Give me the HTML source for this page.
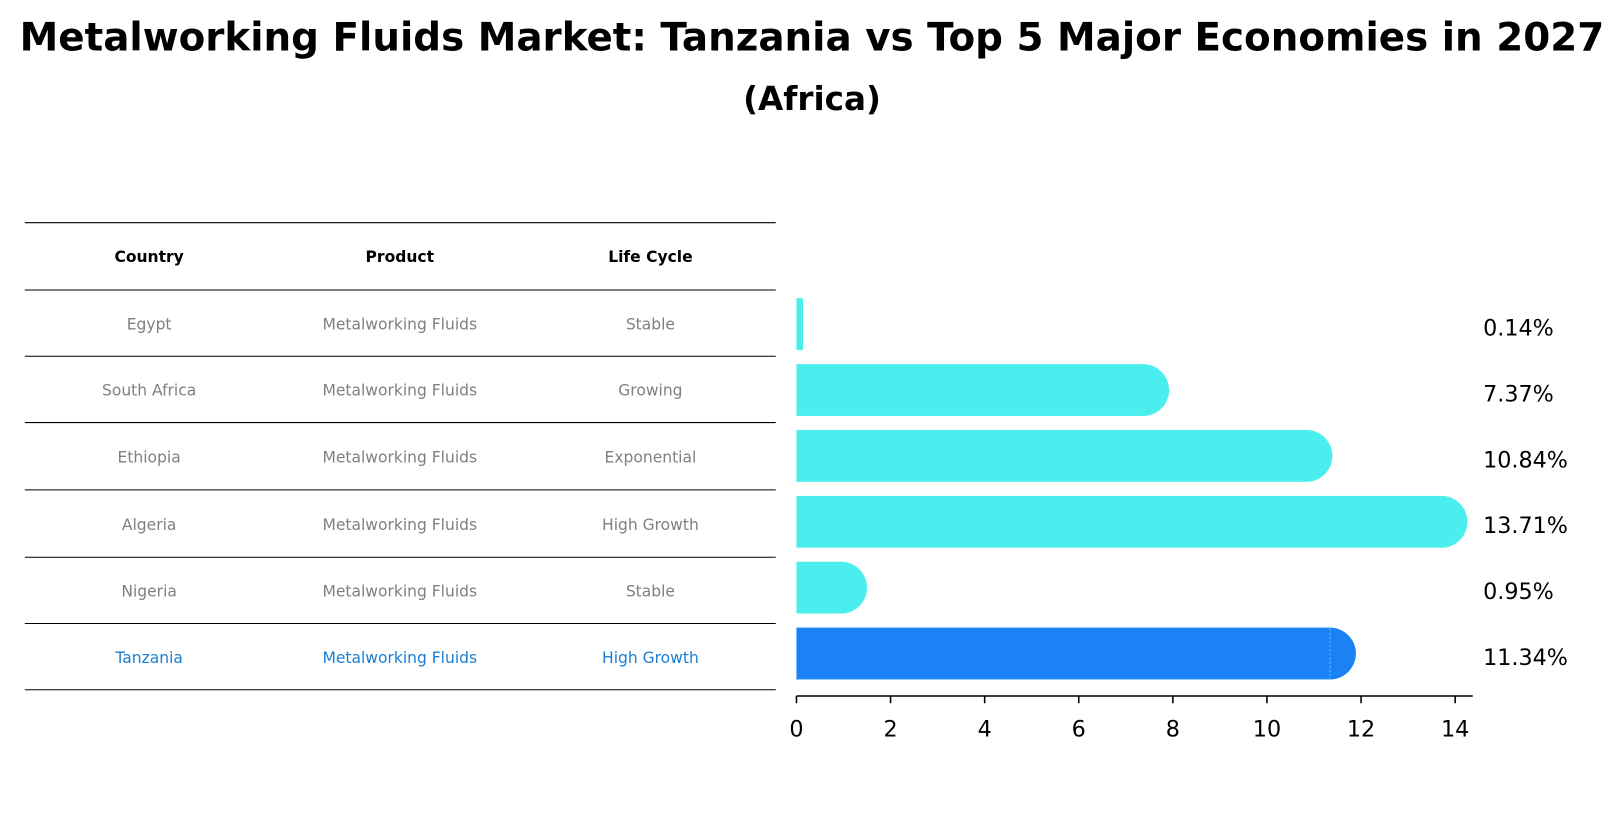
<!DOCTYPE html>
<html><head><meta charset="utf-8"><style>
body{margin:0;background:#fff;font-family:"Liberation Sans","DejaVu Sans",sans-serif;}
svg text{font-family:"DejaVu Sans","Liberation Sans",sans-serif;}
</style></head><body>
<svg width="1624" height="823" xmlns="http://www.w3.org/2000/svg">
<g transform="scale(1.0357)">
<text x="784" y="49" text-anchor="middle" font-size="37.5" font-weight="bold">Metalworking Fluids Market: Tanzania vs Top 5 Major Economies in 2027</text>
<text x="784" y="106" text-anchor="middle" font-size="31.5" font-weight="bold">(Africa)</text>
<g id="table"></g>
<g id="bars"></g>
</g>
</svg>
<script>
const countries=["Egypt","South Africa","Ethiopia","Algeria","Nigeria","Tanzania"];
const products=["Metalworking Fluids","Metalworking Fluids","Metalworking Fluids","Metalworking Fluids","Metalworking Fluids","Metalworking Fluids"];
const lifecycle=["Stable","Growing","Exponential","High Growth","Stable","High Growth"];
const values=[0.14,7.37,10.84,13.71,0.95,11.34];
const ticks=[0,2,4,6,8,10,12,14];
const NS="http://www.w3.org/2000/svg";
function mk(t,a,p){const e=document.createElementNS(NS,t);for(const k in a)e.setAttribute(k,a[k]);p.appendChild(e);return e;}
const x0=769,x14=1405;const xs=v=>x0+(x14-x0)*v/14;
const rowY=i=>313+i*63.6;
const tb=document.getElementById('table'),bg=document.getElementById('bars');
const cols=[144,386,628];
const lines=[215,280,344,408,473,538,602,666];
lines.forEach(y=>{const l=mk('line',{x1:24,x2:749,y1:y,y2:y,stroke:'#000','stroke-width':1},tb);
});
["Country","Product","Life Cycle"].forEach((h,j)=>{const t=mk('text',{x:cols[j],y:253,'text-anchor':'middle','font-size':15,'font-weight':'bold'},tb);t.textContent=h;
});
countries.forEach((c,i)=>{const y=(lines[i+1]+lines[i+2])/2+6;const col=i===5?'#1a7fd4':'#808080';
[c,products[i],lifecycle[i]].forEach((s,j)=>{const t=mk('text',{x:cols[j],y:y,'text-anchor':'middle','font-size':15,fill:col},tb);t.textContent=s;
});});
values.forEach((v,i)=>{const cy=rowY(i),h=50,fill=i===5?'#1a82f5':'#4aeeee';
const w=xs(v)-x0;
const g=mk('g',{},bg);
mk('rect',{x:x0,y:cy-h/2,width:Math.max(w,1),height:h,fill:fill},g);
if(v>0.5)mk('circle',{cx:xs(v),cy:cy,r:h/2,fill:fill},g);
if(i===5)mk('rect',{x:x0,y:cy-h/2,width:w,height:h,fill:'none',stroke:'#7fbfff','stroke-width':1,'stroke-dasharray':'2,2'},g);
const t=mk('text',{x:1432,y:cy+11,'font-size':21.5},bg);t.textContent=v.toFixed(2)+'%';
});
const ax=mk('line',{x1:x0,x2:1422,y1:672,y2:672,stroke:'#000','stroke-width':1.5},bg);

ticks.forEach(v=>{const tk=mk('line',{x1:xs(v),x2:xs(v),y1:672,y2:679,stroke:'#000','stroke-width':1.5},bg);

const t=mk('text',{x:xs(v),y:711,'text-anchor':'middle','font-size':21.5},bg);t.textContent=v;
});
</script>
</body></html>
